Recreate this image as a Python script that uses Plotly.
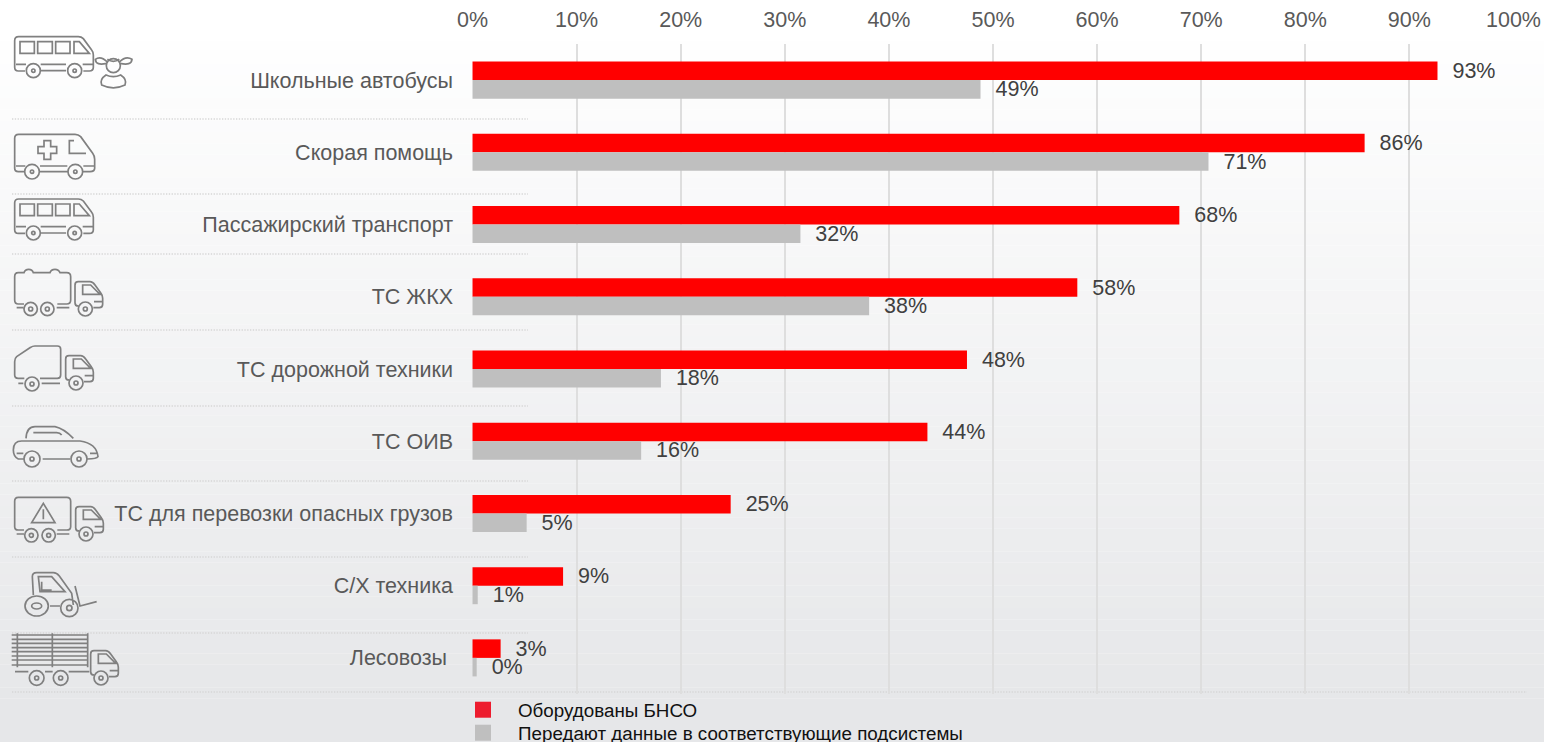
import re
import plotly.graph_objects as go

W, H = 1544, 742
categories = ["Школьные автобусы", "Скорая помощь", "Пассажирский транспорт", "ТС ЖКХ",
              "ТС дорожной техники", "ТС ОИВ", "ТС для перевозки опасных грузов",
              "С/Х техника", "Лесовозы\u00a0"]
equipped = [92.7, 85.7, 67.9, 58.1, 47.5, 43.7, 24.8, 8.7, 2.7]
transmit = [48.8, 70.7, 31.5, 38.1, 18.1, 16.2, 5.2, 0.5, 0.4]
equipped_labels = ["93%", "86%", "68%", "58%", "48%", "44%", "25%", "9%", "3%"]
transmit_labels = ["49%", "71%", "32%", "38%", "18%", "16%", "5%", "1%", "0%"]
x_ticks = [0, 10, 20, 30, 40, 50, 60, 70, 80, 90, 100]
x_tick_labels = ["0%", "10%", "20%", "30%", "40%", "50%", "60%", "70%", "80%", "90%", "100%"]
legend_names = ["Оборудованы БНСО", "Передают данные в соответствующие подсистемы"]

PAD = "\u00a0\u00a0"
LABEL = "Liberation Sans, Arial, sans-serif"
ICON = "#808080"


def conv(path, x0, y0, dx=0, dy=0):
    """Zoomed-picture coordinates (3x) to paper fractions for decorative icons."""
    out = []
    for tok in re.findall(r"[MLQCZ]|-?\d+\.?\d*,-?\d+\.?\d*", path):
        if tok in "MLQCZ":
            out.append(tok)
        else:
            a, b = tok.split(",")
            px = x0 + (float(a) + dx) / 3
            py = y0 + (float(b) + dy) / 3
            out.append(f"{px / W:.5f},{1 - py / H:.5f}")
    return " ".join(out)


def circle(cx, cy, r, ry=None):
    ry = ry or r
    k = 0.5523
    return (f"M{cx - r},{cy} C{cx - r},{cy - k * ry} {cx - k * r},{cy - ry} {cx},{cy - ry} "
            f"C{cx + k * r},{cy - ry} {cx + r},{cy - k * ry} {cx + r},{cy} "
            f"C{cx + r},{cy + k * ry} {cx + k * r},{cy + ry} {cx},{cy + ry} "
            f"C{cx - k * r},{cy + ry} {cx - r},{cy + k * ry} {cx - r},{cy} Z ")


def wheel(cx, cy, r=21, inner=5):
    return circle(cx, cy, r) + circle(cx, cy, inner)


BUS = ("M75,153 L55,153 Q44,153 44,142 L44,62 Q44,50 56,50 L235,50 Q244,50 250,56 L275,90 Q280,96 280,105 "
       "L280,142 Q280,153 268,153 L250,153 M48,133 L78,133 M122,133 L198,133 M122,152 L198,152 M248,133 L278,133 "
       "M60,65 L103,65 L103,100 L60,100 Z M113,65 L157,65 L157,100 L113,100 Z M167,65 L210,65 L210,100 L167,100 Z "
       "M222,100 L222,65 L238,65 L268,100 Z " + wheel(100, 152) + wheel(224, 152))
KID = (circle(340, 137, 21) + "M322,126 Q302,106 286,118 Q288,138 320,130 M358,126 Q378,106 396,118 Q394,138 360,130 "
       "M322,118 Q340,130 358,118 "
       "M305,195 Q298,178 318,165 Q340,175 362,165 Q382,178 375,195 Q340,212 305,195 Z")
AMB = ("M75,455 L55,455 Q44,455 44,445 L44,355 Q44,343 56,343 L225,343 Q235,343 242,350 L278,400 Q284,408 284,418 "
       "L284,445 Q284,455 270,455 L250,455 M48,438 L76,438 M120,438 L202,438 M120,455 L202,455 M250,438 L282,438 "
       "M132,362 L152,362 L152,380 L170,380 L170,400 L152,400 L152,418 L132,418 L132,400 L114,400 L114,380 L132,380 Z "
       "M222,362 L208,362 L208,400 L258,400 " + wheel(96, 455, 22) + wheel(226, 455, 22))
CAB = ("M235,138 Q225,138 225,128 L225,75 Q225,65 235,65 L270,65 Q278,65 285,75 L303,100 Q308,106 308,115 L308,133 "
       "Q308,143 298,143 L280,143 M248,75 L248,103 L300,103 L272,75 Z M282,125 L306,125 " + wheel(256, 147, 21, 6))
TANK = ("M72,132 L55,132 Q44,132 44,120 L44,50 Q44,38 55,38 L72,38 Q75,28 86,28 Q97,28 100,38 L150,38 Q153,28 165,28 "
        "Q176,28 180,38 L200,38 Q212,38 212,50 L212,120 Q212,132 200,132 L172,132 M50,143 L70,143 M170,143 L208,143 "
        + wheel(92, 147, 20, 6) + wheel(142, 147, 20, 6))
ROAD = ("M73,355 L55,355 Q44,355 44,345 L44,305 Q44,295 50,290 L92,262 Q97,258 105,258 L172,258 Q182,258 182,268 "
        "L182,345 Q182,355 172,355 L120,355 M55,370 L70,370 M125,370 L180,370 " + wheel(96, 372, 21, 6))
CAR = ("M70,597 L55,597 Q40,590 40,570 Q40,543 65,543 L240,543 Q290,550 294,590 Q290,597 262,597 M128,597 L210,597 "
       "M50,580 L70,580 M270,580 L290,580 M78,535 Q80,500 105,500 L165,500 Q190,505 220,535 "
       "M100,518 L170,518 Q180,518 185,525 " + wheel(96, 597, 24, 6) + wheel(237, 597, 24, 6))
HAZ = ("M72,150 L55,150 Q44,150 44,140 L44,64 Q44,52 55,52 L200,52 Q212,52 212,64 L212,140 Q212,150 200,150 L172,150 "
       "M130,70 L165,128 L95,128 Z M130,88 L130,118 M50,162 L72,162 M170,162 L208,162 "
       + wheel(94, 166, 20, 6) + wheel(146, 166, 20, 6))
FORK = ("M100,345 L97,290 Q97,278 110,278 L160,278 Q170,278 178,288 L215,340 L220,375 "
        "M115,290 L155,290 L195,335 L120,335 Z M125,305 L125,330 L155,330 "
        + circle(110, 378, 35, 30) + circle(110, 378, 15, 9) + wheel(208, 384, 26, 8)
        + "M225,318 L240,378 L290,365 M150,378 L180,378")
LOGS = ("".join(f"M35,{y} L265,{y} " for y in (465, 478, 490, 503, 515, 528, 540, 555))
        + "M52,460 L52,562 M157,460 L157,562 M263,460 L263,562 M45,575 L85,575 M135,575 L158,575 M206,575 L268,575 "
        + wheel(110, 594, 22, 6) + wheel(182, 594, 22, 6))

shapes = []
# background gradient
STEPS = 60
top_y, bot_y = 30, 710
c0, c1 = (255, 255, 255), (230, 231, 233)
for i in range(STEPS + 2):
    t = min(i / STEPS, 1)
    col = tuple(round(a + (b - a) * t) for a, b in zip(c0, c1))
    y_a = 0 if i == 0 else top_y + (bot_y - top_y) * (i - 1) / STEPS
    y_b = H if i == STEPS + 1 else top_y + (bot_y - top_y) * i / STEPS
    shapes.append(dict(type="rect", xref="paper", yref="paper", x0=0, x1=1, y0=1 - y_b / H, y1=1 - y_a / H,
                       fillcolor=f"rgb{col}", line=dict(width=0), layer="below"))
# dotted separators
for y, xe in [(119, 528), (194, 528), (254, 528), (330, 528), (406, 528), (481, 528), (557, 528), (633, 528), (692, 1527)]:
    shapes.append(dict(type="line", xref="paper", yref="paper", x0=12 / W, x1=xe / W, y0=1 - y / H, y1=1 - y / H,
                       line=dict(color="#d6d6d6", width=1.3, dash="1.3px,1.5px"), layer="below"))
# icons
icon_paths = [
    conv(BUS, 0, 20), conv(KID, 0, 20), conv(AMB, 0, 20), conv(BUS, 0, 20, 0, 487),
    conv(TANK, 0, 260), conv(CAB, 0, 260), conv(ROAD, 0, 260), conv(CAB, 0, 260, -28, 222), conv(CAR, 0, 260),
    conv(HAZ, 0, 480), conv(CAB, 0, 480, 2, 15), conv(FORK, 0, 480), conv(LOGS, 0, 480), conv(CAB, 0, 480, 47, 447),
]
for p in icon_paths:
    shapes.append(dict(type="path", xref="paper", yref="paper", path=p, line=dict(color=ICON, width=1.7), layer="below"))

fig = go.Figure()
fig.add_bar(y=categories, x=equipped, orientation="h", name=legend_names[0], showlegend=False,
            marker=dict(color="#ff0000", line=dict(width=0)),
            text=[PAD + s for s in equipped_labels], textposition="outside", cliponaxis=False,
            constraintext="none", textfont=dict(family=LABEL, size=21.5, color="#404040"))
fig.add_bar(y=categories, x=transmit, orientation="h", name=legend_names[1], showlegend=False,
            marker=dict(color="#bfbfbf", line=dict(width=0)),
            text=[PAD + s for s in transmit_labels], textposition="outside", cliponaxis=False,
            constraintext="none", textfont=dict(family=LABEL, size=21.5, color="#404040"))
for name, col, lg in zip(legend_names, ["#ed1c2e", "#bfbfbf"], ["legend", "legend2"]):
    fig.add_scatter(x=[None], y=[None], mode="markers", name=name, legend=lg,
                    marker=dict(symbol="square", size=16, color=col))

leg = dict(x=448 / W, xanchor="left", yanchor="top", orientation="v", bgcolor="rgba(0,0,0,0)", itemwidth=60,
           font=dict(family=LABEL, size=18.8, color="#111111"))

fig.update_layout(
    width=W, height=H, margin=dict(l=0, r=0, t=0, b=0, autoexpand=False),
    paper_bgcolor="white", plot_bgcolor="rgba(0,0,0,0)",
    font=dict(family=LABEL, color="#595959"),
    barmode="group", bargap=0.487, bargroupgap=0, shapes=shapes,
    legend=dict(leg, y=1 - 691 / H),
    legend2=dict(leg, y=1 - 714 / H),
    xaxis=dict(domain=[472 / W, 1514 / W], range=[-0.05, 100.05], side="top", tickmode="array", tickvals=x_ticks,
               ticktext=x_tick_labels, showgrid=True, gridcolor="#dedede", gridwidth=2, zeroline=False,
               showline=False, ticks="", ticklabelstandoff=12,
               tickfont=dict(family=LABEL, size=21.5, color="#595959")),
    yaxis=dict(domain=[1 - 694 / H, 1 - 44 / H], autorange="reversed", type="category", showgrid=False,
               zeroline=False, showline=False, ticks="", ticklabelstandoff=18,
               tickfont=dict(family=LABEL, size=21.5, color="#595959")),
)
fig.write_html("out.html", config=dict(displayModeBar=False),
               post_script="document.body.style.margin='0';document.body.style.overflow='hidden';")
